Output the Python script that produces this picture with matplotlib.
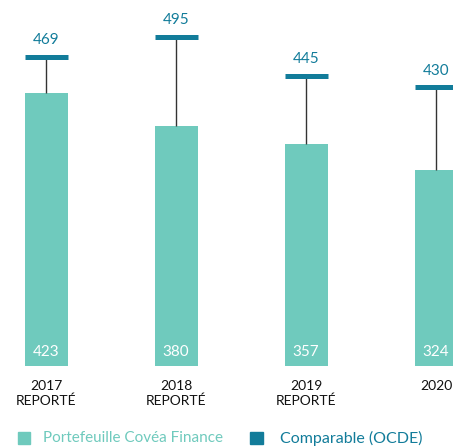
import matplotlib
matplotlib.use("Agg")
import matplotlib.pyplot as plt
from matplotlib.patches import Rectangle

years = ["2017", "2018", "2019", "2020"]
tick_labels = ["2017\nREPORTÉ", "2018\nREPORTÉ", "2019\nREPORTÉ", "2020"]
portfolio = [423, 380, 357, 324]
comparable = [469, 495, 445, 430]

BAR = "#6fcabd"
DARK = "#127c9a"
FONT = "Lato"

W, H = 453, 447
fig = plt.figure(figsize=(W / 100, H / 100), dpi=100)
ax = fig.add_axes([0, (H - 366) / H, 1, 366 / H])
ax.set_xlim(-46 / 130, (W - 46) / 130)
ax.set_ylim(72, 72 + 366 / 0.778)
ax.axis("off")

x = list(range(len(years)))
bw = 43 / 130
ax.bar(x, portfolio, width=bw, color=BAR, bottom=0, zorder=1)
ax.vlines(x, portfolio, comparable, color="#333333", linewidth=1, zorder=2)
ax.hlines(comparable, [i - bw / 2 for i in x], [i + bw / 2 for i in x],
          color=DARK, linewidth=3.6, zorder=3)

for i, (p, c) in enumerate(zip(portfolio, comparable)):
    ax.annotate(str(c), (i, c), xytext=(0, 7), textcoords="offset points",
                ha="center", va="bottom", color=DARK, fontsize=11,
                family=FONT)
    ax.annotate(str(p), (i, 72), xytext=(0, 5), textcoords="offset points",
                ha="center", va="bottom", color="white", fontsize=11,
                family=FONT)

for i, lab in enumerate(tick_labels):
    fig.text((46 + 130 * i) / W, 1 - 380 / H, lab, ha="center", va="top",
             fontsize=10, family=FONT, linespacing=1.2, color="#111111")

# legend
fig.patches.append(Rectangle((18 / W, 1 - 444 / H), 12 / W, 12 / H,
                             transform=fig.transFigure, color=BAR))
fig.text(43 / W, 1 - 438 / H, "Portefeuille Covéa Finance", ha="left", va="center",
         fontsize=11, family=FONT, color=BAR)
fig.patches.append(Rectangle((250 / W, 1 - 444 / H), 13 / W, 12 / H,
                             transform=fig.transFigure, color=DARK))
fig.text(280 / W, 1 - 438 / H, "Comparable (OCDE)", ha="left", va="center",
         fontsize=11.5, family=FONT, color=DARK)

fig.savefig("out.png", dpi=100)
